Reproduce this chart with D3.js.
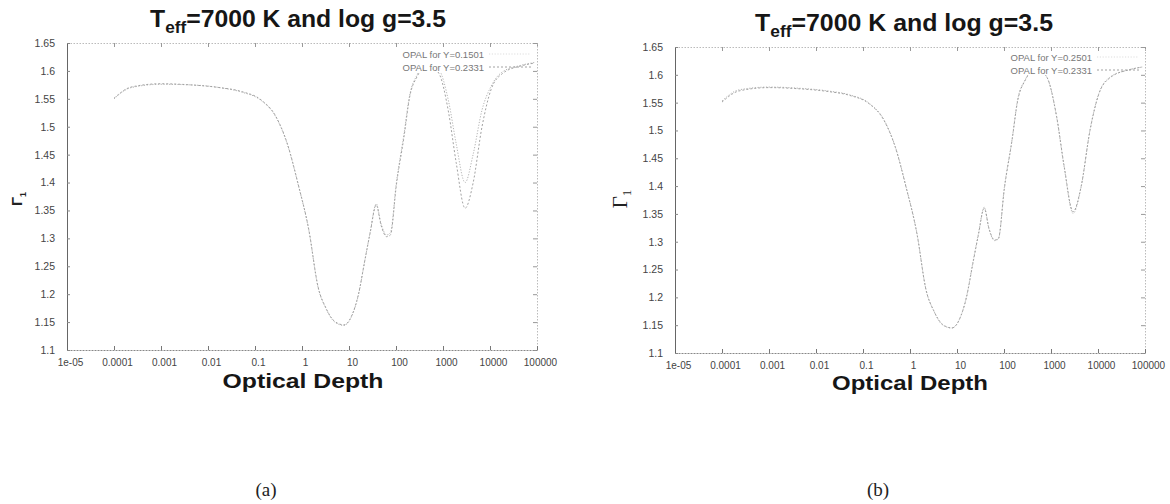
<!DOCTYPE html>
<html>
<head>
<meta charset="utf-8">
<script src="https://cdn.jsdelivr.net/npm/d3@7"></script>
<style>
  body { margin: 0; background: #fff; }
  svg { display: block; }
  .tick text { font-family: "Liberation Sans", Arial, sans-serif; fill: #444; }
</style>
</head>
<body>
<div id="chart"></div>
<script>
// ---- data ----
var tickValuesX = [1e-5, 1e-4, 1e-3, 1e-2, 1e-1, 1, 10, 100, 1000, 10000, 100000];
var tickLabelsX = ['1e-05', '0.0001', '0.001', '0.01', '0.1', '1', '10', '100', '1000', '10000', '100000'];
var tickValuesY = [1.1, 1.15, 1.2, 1.25, 1.3, 1.35, 1.4, 1.45, 1.5, 1.55, 1.6, 1.65];
var tickLabelsY = ['1.1', '1.15', '1.2', '1.25', '1.3', '1.35', '1.4', '1.45', '1.5', '1.55', '1.6', '1.65'];

// optical depth grid
var tau = [1e-4, 2.3e-4, 1e-3, 4.2e-3, 1.8e-2, 5.2e-2, 0.135, 0.28, 0.49, 0.83,
           1.4, 2.2, 3.2, 5.0, 7.8, 11.2, 15.8, 21.9, 28.2, 38,
           47.9, 63, 76, 102, 148, 195, 282, 479, 813, 1318,
           1905, 2951, 4365, 6761, 10471, 18197, 45709, 87096];

// Gamma_1 for OPAL Y=0.2331 (both panels)
var gammaY2331 = [1.551, 1.571, 1.577, 1.575, 1.570, 1.563, 1.548, 1.518, 1.469, 1.397,
                  1.315, 1.213, 1.176, 1.151, 1.145, 1.160, 1.199, 1.262, 1.310, 1.360,
                  1.324, 1.303, 1.306, 1.396, 1.482, 1.553, 1.590, 1.611, 1.596, 1.525,
                  1.436, 1.354, 1.399, 1.500, 1.566, 1.595, 1.609, 1.614];

// Gamma_1 for OPAL Y=0.1501 (panel a)
var gammaY1501 = [1.550, 1.570, 1.576, 1.575, 1.570, 1.562, 1.547, 1.517, 1.468, 1.396,
                  1.314, 1.212, 1.175, 1.150, 1.144, 1.159, 1.198, 1.262, 1.311, 1.362,
                  1.327, 1.306, 1.310, 1.400, 1.487, 1.556, 1.593, 1.614, 1.603, 1.545,
                  1.470, 1.400, 1.450, 1.530, 1.572, 1.598, 1.610, 1.615];

// Gamma_1 for OPAL Y=0.2501 (panel b)
var gammaY2501 = [1.553, 1.573, 1.578, 1.576, 1.571, 1.564, 1.549, 1.519, 1.470, 1.398,
                  1.316, 1.213, 1.176, 1.150, 1.145, 1.160, 1.200, 1.264, 1.312, 1.362,
                  1.323, 1.302, 1.305, 1.398, 1.483, 1.555, 1.591, 1.612, 1.596, 1.524,
                  1.434, 1.351, 1.398, 1.501, 1.567, 1.596, 1.609, 1.614];

var legendA = ['OPAL for Y=0.1501', 'OPAL for Y=0.2331'];
var legendB = ['OPAL for Y=0.2501', 'OPAL for Y=0.2331'];

// ---- layout ----
var width = 1170, height = 504;

var panels = [
	{ left: 67, right: 537, top: 43, bottom: 350, series: [gammaY1501, gammaY2331], legend: legendA,
	  titleX: 298, titleY: 27, titleW: 296, labelX: 303, labelY: 388, labelW: 161,
	  legendX: 484, legendY: 54, gammaX: 22, gammaY: 199, gammaFont: 'bold 15px "Liberation Sans", sans-serif',
	  caption: '(a)', captionX: 266 },
	{ left: 675, right: 1145, top: 47, bottom: 353, series: [gammaY2501, gammaY2331], legend: legendB,
	  titleX: 904, titleY: 31, titleW: 298, labelX: 910, labelY: 390, labelW: 156,
	  legendX: 1092, legendY: 57, gammaX: 627, gammaY: 199, gammaFont: '21px "Liberation Serif", serif',
	  caption: '(b)', captionX: 878 }
];

var svg = d3.select('#chart').append('svg')
			.attr('width', width)
			.attr('height', height);

svg.append('rect').attr('width', width).attr('height', height).attr('fill', '#fff');

// squeeze/stretch a text so it spans a given width
function fitWidth(sel, cx, by, target, sy) {
	var w = sel.node().getComputedTextLength();
	sel.attr('transform', 'translate(' + cx + ',' + by + ') scale(' + (target / w) + ',' + (sy || 1) + ')');
}

function drawPanel(p) {
	var xScale = d3.scaleLog().domain([1e-5, 1e5]).range([p.left, p.right]);
	var yScale = d3.scaleLinear().domain([1.1, 1.65]).range([p.bottom, p.top]);

	// top and right borders (mirrored ticks, no labels)
	svg.append('g')
		.attr('class', 'border')
		.attr('transform', 'translate(0,' + p.top + ')')
		.call(d3.axisTop(xScale).tickValues(tickValuesX).tickSizeInner(-4).tickSizeOuter(0).tickFormat(function() { return ''; }));

	svg.append('g')
		.attr('class', 'border')
		.attr('transform', 'translate(' + p.right + ',0)')
		.call(d3.axisRight(yScale).tickValues(tickValuesY).tickSizeInner(-4).tickSizeOuter(0).tickFormat(function() { return ''; }));

	svg.selectAll('.border path')
		.attr('stroke', '#bbb')
		.attr('stroke-dasharray', '1.5,1.5');
	svg.selectAll('.border line').attr('stroke', '#999');

	// bottom axis
	var gx = svg.append('g')
		.attr('transform', 'translate(0,' + p.bottom + ')')
		.call(d3.axisBottom(xScale)
			.tickValues(tickValuesX)
			.tickFormat(function(d, i) { return tickLabelsX[i]; })
			.tickSizeInner(-4)
			.tickSizeOuter(0)
			.tickPadding(9));
	gx.select('.domain').attr('stroke', '#888').attr('stroke-dasharray', '2,1');
	gx.selectAll('line').attr('stroke', '#777');
	gx.selectAll('text').style('font-size', '10px').attr('dx', 3);

	// left axis
	var gy = svg.append('g')
		.attr('transform', 'translate(' + p.left + ',0)')
		.call(d3.axisLeft(yScale)
			.tickValues(tickValuesY)
			.tickFormat(function(d, i) { return tickLabelsY[i]; })
			.tickSizeInner(-3)
			.tickSizeOuter(0)
			.tickPadding(12));
	gy.select('.domain').attr('stroke', '#666');
	gy.selectAll('line').attr('stroke', '#888');
	gy.selectAll('text').style('font-size', '10.5px');

	// curves
	var line = d3.line()
		.x(function(d) { return xScale(d[0]); })
		.y(function(d) { return yScale(d[1]); })
		.curve(d3.curveMonotoneX);

	var styles = [
		{ stroke: '#b4b4b4', dash: '1.2,1.6' },
		{ stroke: '#a2a2a2', dash: '2,2' }
	];

	p.series.forEach(function(s, k) {
		var pts = tau.map(function(t, i) { return [t, s[i]]; });
		svg.append('path')
			.attr('d', line(pts))
			.attr('fill', 'none')
			.attr('stroke', styles[k].stroke)
			.attr('stroke-width', 1)
			.attr('stroke-dasharray', styles[k].dash);
	});

	// legend
	p.legend.forEach(function(txt, k) {
		var ly = p.legendY + k * 13;
		svg.append('rect')
			.attr('x', p.legendX - 96).attr('y', ly - 6)
			.attr('width', 96).attr('height', 11)
			.attr('fill', '#fff');
		svg.append('text')
			.attr('x', p.legendX).attr('y', ly + 3.5)
			.attr('text-anchor', 'end')
			.style('font-family', '"Liberation Sans", Arial, sans-serif')
			.style('font-size', '9.5px')
			.attr('fill', '#777')
			.text(txt);
		svg.append('line')
			.attr('x1', p.legendX + 5).attr('x2', p.legendX + 47)
			.attr('y1', ly).attr('y2', ly)
			.attr('stroke', k == 0 ? '#ddd' : styles[k].stroke)
			.attr('stroke-width', 1)
			.attr('stroke-dasharray', styles[k].dash);
	});

	// title
	var title = svg.append('text')
		.attr('text-anchor', 'middle')
		.style('font-family', '"Liberation Sans", Arial, sans-serif')
		.style('font-weight', 'bold')
		.style('font-size', '23px')
		.attr('fill', '#161616');
	title.append('tspan').text('T');
	title.append('tspan').style('font-size', '16px').attr('dy', 6).text('eff');
	title.append('tspan').attr('dy', -6).text('=7000 K and log g=3.5');
	fitWidth(title, p.titleX, p.titleY, p.titleW);

	// x label
	var xl = svg.append('text')
		.attr('text-anchor', 'middle')
		.style('font-family', '"Liberation Sans", Arial, sans-serif')
		.style('font-weight', 'bold')
		.style('font-size', '20px')
		.attr('fill', '#161616')
		.text('Optical Depth');
	fitWidth(xl, p.labelX, p.labelY, p.labelW, 1.05);

	// y label: Gamma_1, rotated
	var yl = svg.append('text')
		.attr('text-anchor', 'middle')
		.attr('transform', 'translate(' + p.gammaX + ',' + p.gammaY + ') rotate(-90)')
		.style('font', p.gammaFont)
		.attr('fill', '#222');
	yl.append('tspan').text('\u0393');
	yl.append('tspan').style('font-size', '0.6em').attr('dy', 4).text('1');

	// caption
	svg.append('text')
		.attr('x', p.captionX).attr('y', 496)
		.attr('text-anchor', 'middle')
		.style('font-family', '"Liberation Serif", "DejaVu Serif", serif')
		.style('font-size', '19px')
		.attr('fill', '#222')
		.text(p.caption);
}

panels.forEach(drawPanel);
</script>
</body>
</html>
